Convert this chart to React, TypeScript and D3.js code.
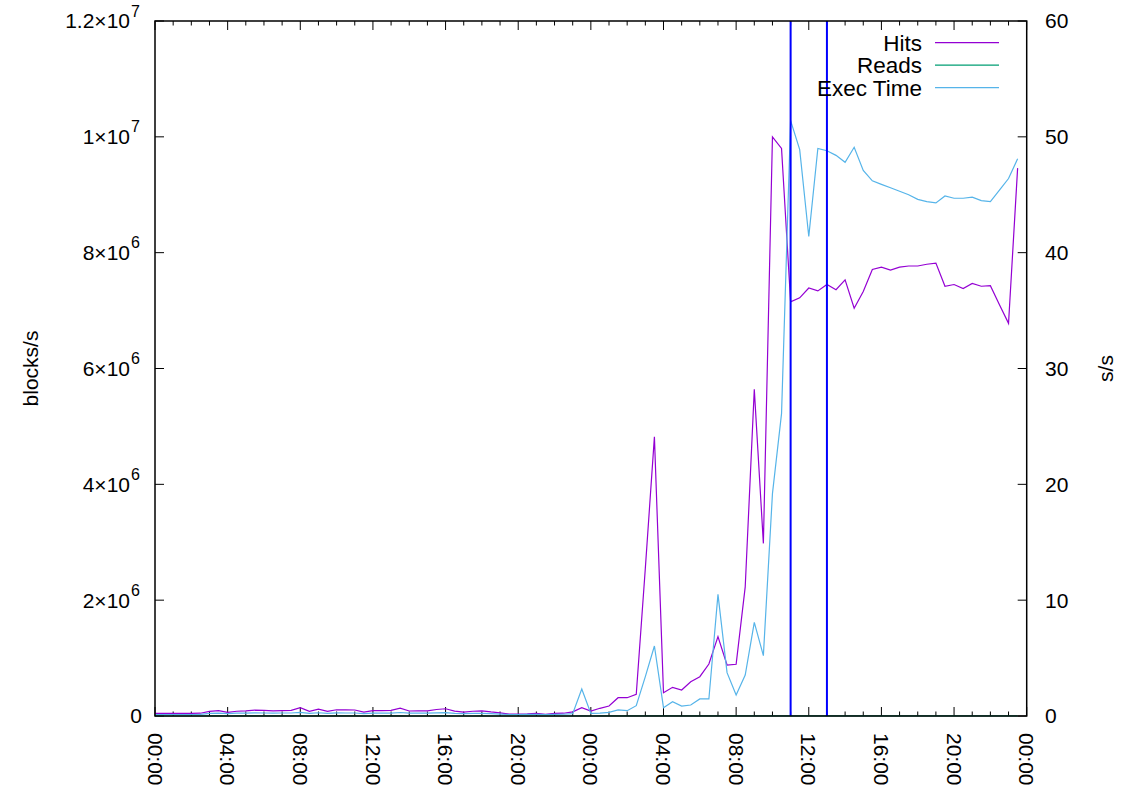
import React from "react";
import * as d3 from "d3";

// ---- data (sampled every 30 minutes over two days) ----
const HOURS: number[] = d3.range(0, 48, 0.5);

const HITS: number[] = [
  45000, 44000, 46000, 45000, 44000, 48000, 80000, 92000,
  62000, 82000, 88000, 100000, 96000, 90000, 94000, 96000,
  145000, 80000, 118000, 80000, 108000, 106000, 104000, 66000,
  92000, 94000, 96000, 135000, 86000, 88000, 88000, 112000,
  125000, 85000, 66000, 82000, 90000, 70000, 55000, 32000,
  34000, 38000, 46000, 30000, 44000, 48000, 72000, 143000,
  86000, 133000, 173000, 316000, 316000, 375000, 2550000, 4820000,
  402000, 495000, 449000, 592000, 679000, 898000, 1370000, 880000,
  893000, 2230000, 5640000, 2980000, 10000000, 9800000, 7150000, 7220000,
  7390000, 7340000, 7450000, 7360000, 7530000, 7040000, 7330000, 7710000,
  7750000, 7700000, 7750000, 7770000, 7770000, 7800000, 7820000, 7420000,
  7450000, 7380000, 7470000, 7420000, 7430000, 7100000, 6780000, 9460000,
];

const READS: number[] = [
  300, 300, 350, 300, 300, 350, 450, 500,
  400, 450, 450, 500, 500, 450, 450, 500,
  550, 400, 500, 400, 500, 500, 450, 400,
  450, 450, 450, 500, 400, 400, 400, 500,
  500, 400, 400, 400, 450, 400, 350, 300,
  300, 300, 350, 300, 300, 350, 400, 500,
  400, 450, 500, 600, 600, 650, 800, 1000,
  600, 650, 600, 700, 700, 750, 900, 750,
  750, 850, 1100, 900, 1300, 1300, 1200, 1200,
  1200, 1200, 1250, 1200, 1250, 1150, 1200, 1250,
  1250, 1250, 1250, 1250, 1250, 1300, 1300, 1200,
  1200, 1200, 1200, 1200, 1200, 1200, 1150, 1300,
];

const EXEC: number[] = [
  0.12, 0.12, 0.13, 0.12, 0.12, 0.14, 0.22, 0.25,
  0.2, 0.24, 0.25, 0.27, 0.26, 0.25, 0.26, 0.26,
  0.32, 0.22, 0.28, 0.22, 0.27, 0.26, 0.26, 0.2,
  0.24, 0.25, 0.25, 0.3, 0.24, 0.24, 0.24, 0.27,
  0.29, 0.23, 0.2, 0.22, 0.23, 0.2, 0.17, 0.13,
  0.13, 0.14, 0.15, 0.12, 0.14, 0.15, 0.2, 2.33,
  0.23, 0.25, 0.32, 0.52, 0.46, 0.89, 3.4, 6.04,
  0.72, 1.24, 0.86, 0.95, 1.47, 1.47, 10.5, 3.74,
  1.81, 3.54, 8.09, 5.21, 19.2, 26.1, 51.4, 48.9,
  41.4, 49.0, 48.8, 48.4, 47.8, 49.1, 47.1, 46.2,
  45.9, 45.6, 45.3, 45.0, 44.6, 44.4, 44.3, 44.9,
  44.7, 44.7, 44.8, 44.5, 44.4, 45.4, 46.4, 48.1,
];

const MARKERS: number[] = [35, 37]; // 11:00 and 13:00 on day two

const X_MAJOR: number[] = [0, 4, 8, 12, 16, 20, 24, 28, 32, 36, 40, 44, 48];
const X_LABELS: string[] = ["00:00", "04:00", "08:00", "12:00", "16:00", "20:00", "00:00", "04:00", "08:00", "12:00", "16:00", "20:00", "00:00"];
const X_MINOR: number[] = d3.range(0, 49, 1);

const YL_TICKS: number[] = [0, 2e6, 4e6, 6e6, 8e6, 1e7, 1.2e7];
const YL_MANT: string[] = ["0", "2×10", "4×10", "6×10", "8×10", "1×10", "1.2×10"];
const YL_EXP: string[] = ["", "6", "6", "6", "6", "7", "7"];
const YR_TICKS: number[] = [0, 10, 20, 30, 40, 50, 60];

const SERIES = [
  { name: "Hits", color: "#9400d3", values: HITS, axis: "L" },
  { name: "Reads", color: "#009e73", values: READS, axis: "L" },
  { name: "Exec Time", color: "#56b4e9", values: EXEC, axis: "R" },
];

const W = 1127;
const H = 787;
const M = { left: 155, right: 1026.7, top: 21, bottom: 716 };
const FONT = "'Liberation Sans', Arial, Helvetica, sans-serif";
const FS = 21;

export default function App() {
  const x = d3.scaleLinear().domain([0, 48]).range([M.left, M.right]);
  const yL = d3.scaleLinear().domain([0, 1.2e7]).range([M.bottom, M.top]);
  const yR = d3.scaleLinear().domain([0, 60]).range([M.bottom, M.top]);

  const lineFor = (vals: number[], axis: string) =>
    d3
      .line<number>()
      .x((_, i) => x(HOURS[i]))
      .y((v) => (axis === "L" ? yL(v) : yR(v)))(vals) || "";

  return (
    <svg
      width={W}
      height={H}
      style={{ position: "absolute", left: 0, top: 0, background: "#fff" }}
      fontFamily={FONT}
      fontSize={FS}
    >
      <rect x={0} y={0} width={W} height={H} fill="#fff" />

      {/* ticks */}
      <g stroke="#000" strokeWidth={1}>
        {X_MINOR.map((h) => {
          const major = h % 4 === 0;
          const len = major ? 9 : 4.5;
          return (
            <g key={"xt" + h}>
              <line x1={x(h)} x2={x(h)} y1={M.bottom} y2={M.bottom - len} />
              <line x1={x(h)} x2={x(h)} y1={M.top} y2={M.top + len} />
            </g>
          );
        })}
        {YL_TICKS.map((v) => (
          <line key={"yl" + v} x1={M.left} x2={M.left + 9} y1={yL(v)} y2={yL(v)} />
        ))}
        {YR_TICKS.map((v) => (
          <line key={"yr" + v} x1={M.right} x2={M.right - 9} y1={yR(v)} y2={yR(v)} />
        ))}
      </g>

      {/* data lines */}
      <g fill="none" strokeWidth={1.2} strokeLinejoin="miter">
        {SERIES.map((s) => (
          <path key={s.name} d={lineFor(s.values, s.axis)} stroke={s.color} />
        ))}
      </g>

      {/* vertical markers */}
      {MARKERS.map((h) => (
        <line key={"m" + h} x1={x(h)} x2={x(h)} y1={M.top} y2={M.bottom} stroke="#0000ff" strokeWidth={2} />
      ))}

      {/* border */}
      <rect
        x={M.left}
        y={M.top}
        width={M.right - M.left}
        height={M.bottom - M.top}
        fill="none"
        stroke="#000"
        strokeWidth={1.5}
      />

      {/* left tick labels */}
      <g fill="#000">
        {YL_TICKS.map((v, i) => (
          <text key={"lyl" + v} x={YL_EXP[i] ? 130 : 142} y={yL(v)} dy="0.35em" textAnchor="end">
            {YL_MANT[i]}
          </text>
        ))}
        {YL_TICKS.map((v, i) =>
          YL_EXP[i] ? (
            <text key={"lye" + v} x={131} y={yL(v) - 4.5} fontSize={16} textAnchor="start">
              {YL_EXP[i]}
            </text>
          ) : null
        )}
      </g>

      {/* right tick labels */}
      <g fill="#000">
        {YR_TICKS.map((v) => (
          <text key={"lyr" + v} x={1045} y={yR(v)} dy="0.35em" textAnchor="start">
            {v}
          </text>
        ))}
      </g>

      {/* x tick labels */}
      <g fill="#000">
        {X_MAJOR.map((h, i) => (
          <text
            key={"lx" + i}
            transform={`translate(${x(h)},${733}) rotate(90)`}
            dy="0.35em"
            textAnchor="start"
          >
            {X_LABELS[i]}
          </text>
        ))}
      </g>

      {/* axis titles */}
      <text transform={`translate(31,${(M.top + M.bottom) / 2}) rotate(-90)`} dy="0.35em" textAnchor="middle">
        blocks/s
      </text>
      <text transform={`translate(1106,${(M.top + M.bottom) / 2}) rotate(-90)`} dy="0.35em" textAnchor="middle">
        s/s
      </text>

      {/* legend */}
      <g>
        {SERIES.map((s, i) => {
          const yy = 42.7 + i * 22.5;
          return (
            <g key={"lg" + s.name}>
              <text x={922} y={yy} dy="0.35em" textAnchor="end" fill="#000" fontSize={22.5}>
                {s.name}
              </text>
              <line x1={935} x2={999} y1={yy} y2={yy} stroke={s.color} strokeWidth={1.2} />
            </g>
          );
        })}
      </g>
    </svg>
  );
}
